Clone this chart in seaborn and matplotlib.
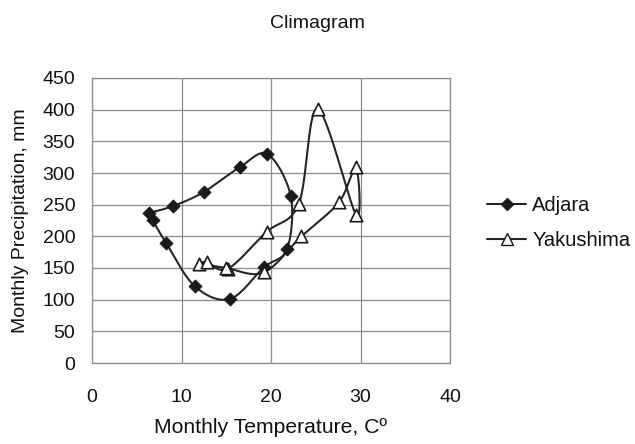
import numpy as np
import pandas as pd
import matplotlib
matplotlib.use("Agg")
import matplotlib.pyplot as plt
import seaborn as sns
from matplotlib.lines import Line2D

# ---- data ----
months = ["Jan", "Feb", "Mar", "Apr", "May", "Jun",
          "Jul", "Aug", "Sep", "Oct", "Nov", "Dec"]
adjara_temp = [6.4, 6.8, 8.3, 11.5, 15.4, 19.2, 21.8, 22.2, 19.6, 16.5, 12.5, 9.1]
adjara_precip = [237, 225, 189, 121, 101, 151, 180, 264, 330, 309, 270, 248]
yaku_temp = [11.9, 12.8, 15.2, 19.5, 23.1, 25.2, 29.5, 29.5, 27.6, 23.4, 19.2, 15.0]
yaku_precip = [157, 159, 149, 207, 251, 401, 234, 309, 254, 200, 143, 150]
series_names = ["Adjara", "Yakushima"]
x_ticks = [0, 10, 20, 30, 40]
y_ticks = [0, 50, 100, 150, 200, 250, 300, 350, 400, 450]


def smooth(xs, ys, n=30):
    """Excel-like smoothed line (Catmull-Rom Bezier) through the points, loop closed."""
    P = np.column_stack([xs + xs[:1], ys + ys[:1]]).astype(float)
    m = len(P)
    out = []
    t = np.linspace(0, 1, n)
    for i in range(m - 1):
        p0 = P[i - 1] if i > 0 else P[i]
        p1, p2 = P[i], P[i + 1]
        p3 = P[i + 2] if i + 2 < m else P[i + 1]
        b1 = p1 + (p2 - p0) / 6
        b2 = p2 - (p3 - p1) / 6
        seg = ((1 - t) ** 3)[:, None] * p1 + (3 * (1 - t) ** 2 * t)[:, None] * b1 \
            + (3 * (1 - t) * t ** 2)[:, None] * b2 + (t ** 3)[:, None] * p2
        out.append(seg if i == 0 else seg[1:])
    c = np.vstack(out)
    return c[:, 0], c[:, 1]


sns.set_theme(style="white")
plt.rcParams["font.family"] = ["Liberation Sans", "DejaVu Sans"]

fig = plt.figure(figsize=(6.35, 4.44), dpi=100)
ax = fig.add_axes([92 / 635, 1 - 363 / 444, (450 - 92) / 635, (363 - 78) / 444])

line_col = "#262626"
grid_col = "#8c8c8c"

curves = []
for name, xs, ys in [("Adjara", adjara_temp, adjara_precip),
                     ("Yakushima", yaku_temp, yaku_precip)]:
    cx, cy = smooth(list(xs), list(ys))
    curves.append(pd.DataFrame({"temp": cx, "precip": cy, "series": name,
                                "order": np.arange(len(cx))}))
curve_df = pd.concat(curves, ignore_index=True)

pts_df = pd.concat([
    pd.DataFrame({"temp": adjara_temp, "precip": adjara_precip, "series": "Adjara", "month": months}),
    pd.DataFrame({"temp": yaku_temp, "precip": yaku_precip, "series": "Yakushima", "month": months}),
], ignore_index=True)

sns.lineplot(data=curve_df, x="temp", y="precip", hue="series", units="series",
             estimator=None, sort=False, palette=[line_col, line_col],
             linewidth=1.5, legend=False, ax=ax, zorder=3)

sns.scatterplot(data=pts_df[pts_df.series == "Adjara"], x="temp", y="precip",
                marker="D", s=42, color="#1a1a1a", edgecolor="#1a1a1a",
                linewidth=0.8, legend=False, ax=ax, zorder=4)
sns.scatterplot(data=pts_df[pts_df.series == "Yakushima"], x="temp", y="precip",
                marker="^", s=80, color="white", edgecolor="#1a1a1a",
                linewidth=1.2, legend=False, ax=ax, zorder=4)

ax.set_xlim(0, 40)
ax.set_ylim(0, 450)
ax.set_xticks(x_ticks)
ax.set_yticks(y_ticks)
ax.grid(True, color=grid_col, linewidth=0.9)
ax.set_axisbelow(True)
for s in ax.spines.values():
    s.set_color(grid_col)
    s.set_linewidth(0.9)
ax.tick_params(axis="both", which="both", direction="out", length=6,
               width=0.9, color=grid_col, labelsize=14, labelcolor="#111111", pad=4)
ax.tick_params(axis="x", pad=13)
ax.tick_params(axis="y", pad=6)

ax.set_xlabel("Monthly Temperature, Cº", fontsize=15.2, color="#111111", labelpad=8)
ax.set_ylabel("Monthly Precipitation, mm", fontsize=14, color="#111111", labelpad=10)

fig.text(0.5, 1 - 23 / 444, "Climagram", ha="center", va="center",
         fontsize=14, color="#111111")

handles = [
    Line2D([0], [0], color=line_col, lw=1.5, marker="D", markersize=6,
           markerfacecolor="#1a1a1a", markeredgecolor="#1a1a1a"),
    Line2D([0], [0], color=line_col, lw=1.5, marker="^", markersize=8,
           markerfacecolor="white", markeredgecolor="#1a1a1a"),
]
fig.legend(handles, series_names, loc="center left",
           bbox_to_anchor=(469 / 635, 1 - 223 / 444), frameon=False,
           fontsize=14.5, handlelength=1.95, handletextpad=0.3, labelspacing=0.75,
           labelcolor="#111111")

fig.savefig("out.png", dpi=100)
